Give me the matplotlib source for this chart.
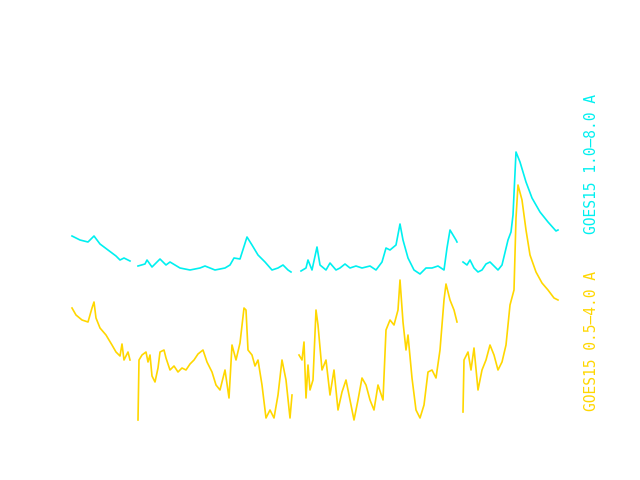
import numpy as np
import matplotlib
matplotlib.use("Agg")
import matplotlib.pyplot as plt

nan = np.nan
# time (arbitrary units) and signal level for the two GOES channels
t_long = [72,80,88,94,100,108,116,120,124,130, nan,
          138,145,147,152,160,166,170,180,190,200,205,215,225,230,234,240,247,252,258,265,272,278,283,288,291, nan,
          301,306,308,312,317,320,326,330,336,340,345,350,356,362,370,376,382,386,390,396,400,403,408,414,420,426,432,438,444,447,450,456,457, nan,
          463,467,470,474,478,482,486,490,494,498,502,508,511,513,516,520,526,532,540,548,556,558]
f_long = [236,240,242,236,244,250,256,260,258,261, nan,
          266,264,260,267,259,265,262,268,270,268,266,270,268,265,258,259,237,245,255,262,270,268,265,270,272, nan,
          271,268,260,270,247,265,270,263,270,268,264,268,266,268,266,270,262,248,250,245,224,240,258,270,274,268,268,266,270,248,230,240,242, nan,
          262,265,260,268,272,270,264,262,266,270,265,240,232,215,152,162,182,198,212,222,231,230]

t_short = [72,76,82,88,92,94,96,100,106,112,116,120,122,124,128,130, nan,
           138,139,142,146,148,150,152,155,158,160,164,166,170,174,178,182,186,190,194,198,203,207,212,216,220,225,229,232,236,240,244,246,248,252,255,258,262,266,270,274,278,282,286,290,292, nan,
           299,302,304,306,308,310,313,316,318,322,326,330,334,338,342,346,350,354,358,362,366,370,374,378,383,386,390,394,398,400,403,406,408,412,416,420,424,428,432,436,440,444,446,450,454,457, nan,
           463,464,468,471,474,478,482,486,490,494,498,502,506,510,514,516,518,522,526,530,536,542,548,554,558]
f_short = [308,315,320,322,308,302,318,328,335,345,352,356,344,360,352,360, nan,
           420,360,355,352,362,355,376,382,368,352,350,358,370,366,372,368,370,364,360,354,350,362,372,385,390,370,398,345,360,343,308,310,350,355,366,360,385,418,410,418,395,360,380,418,395, nan,
           355,360,342,398,365,390,380,310,325,370,360,395,370,410,392,380,400,420,400,378,385,400,410,385,400,330,320,325,310,280,322,350,335,378,410,418,405,372,370,378,350,300,284,300,310,322, nan,
           412,360,352,370,348,390,370,360,345,355,370,362,345,305,290,218,185,200,230,255,272,283,290,298,300]

label_long = "GOES15 1.0\u20138.0 A"
label_short = "GOES15 0.5\u20134.0 A"
c_long = "#00F0F0"
c_short = "#FFD700"

fig = plt.figure(figsize=(6.4, 4.8), dpi=100)
ax = fig.add_axes([0, 0, 1, 1])
ax.plot(t_long, f_long, color=c_long, lw=1.2)
ax.plot(t_short, f_short, color=c_short, lw=1.2)
ax.set_xlim(0, 640)
ax.set_ylim(480, 0)
ax.axis("off")
ax.text(592, 164, label_long, color=c_long, rotation=90, ha="center", va="center",
        fontsize=10.5, family="DejaVu Sans Mono")
ax.text(592, 341, label_short, color=c_short, rotation=90, ha="center", va="center",
        fontsize=10.5, family="DejaVu Sans Mono")
fig.savefig("out.png", dpi=100)
